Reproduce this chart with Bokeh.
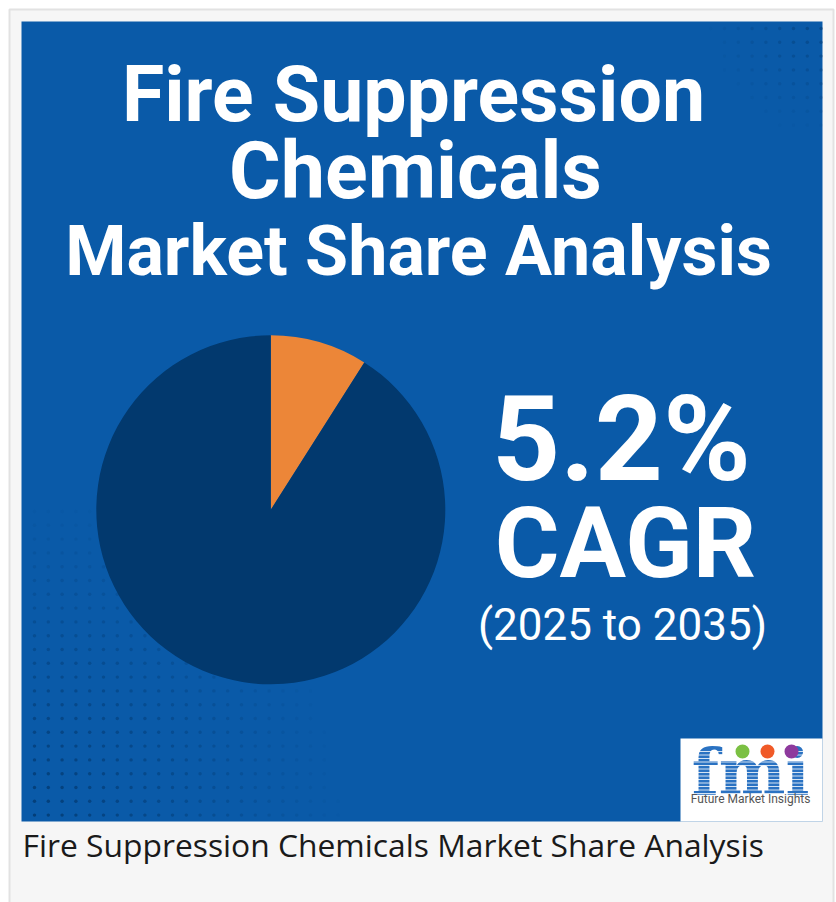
import numpy as np
from math import pi
from bokeh.plotting import figure
from bokeh.models import Range1d, ColumnDataSource
from bokeh.core.properties import value
from bokeh.embed import file_html
from bokeh.resources import INLINE

# ---- data ----
segments = ["Leading players", "Others"]
shares = [9, 91]
seg_colors = ["#ec8638", "#02396e"]
title_lines = ["Fire Suppression", "Chemicals", "Market Share Analysis"]
cagr_value = "5.2%"
cagr_label = "CAGR"
cagr_period = "(2025 to 2035)"
caption = "Fire Suppression Chemicals Market Share Analysis"
logo_text = "fmi"
logo_sub = "Future Market Insights"

W, H = 836, 902
PAGE_H = 902


def Y(py):
    return PAGE_H - py


def TB(baseline, size):
    # compensate the renderer's baseline offset
    return Y(baseline - (6 + 0.284 * size))


p = figure(width=W, height=H, output_backend="svg", toolbar_location=None,
           x_range=Range1d(0, W), y_range=Range1d(PAGE_H - H, PAGE_H),
           min_border=0, background_fill_color="white", border_fill_color="white")
p.axis.visible = False
p.grid.visible = False
p.outline_line_color = None

# outer card
p.quad(left=[9], right=[833], top=[Y(9)], bottom=[Y(910)],
       fill_color="#f6f6f6", line_color="#e2e2e2", line_width=2)

# blue panel
p.quad(left=[21], right=[822], top=[Y(21)], bottom=[Y(821)],
       fill_color="#0a5aa8", line_color=None)

# decorative dot texture (lower-left and top-right corners)
step = 13.8
gx = np.arange(34, 822, step)
gy = np.arange(28, 821, step)
XX, YY = np.meshgrid(gx, gy)
XX = XX.ravel(); YY = YY.ravel()
d1 = np.hypot(XX - 21, YY - 821)
a1 = np.clip(1 - d1 / 330, 0, 1) * 0.85
d2 = np.hypot(XX - 822, YY - 21)
a2 = np.clip(1 - d2 / 120, 0, 1) * 0.5
alpha = np.maximum(a1, a2)
keep = alpha > 0.03
p.scatter(x=XX[keep], y=[Y(v) for v in YY[keep]], size=3.4, marker="circle",
          fill_color="#03386d", line_color=None, fill_alpha=alpha[keep])

# pie
total = float(sum(shares))
cum = np.cumsum([0] + shares) / total
starts = [pi / 2 - 2 * pi * c for c in cum[:-1]]
ends = [pi / 2 - 2 * pi * c for c in cum[1:]]
src = ColumnDataSource(dict(seg=segments, share=shares, start=starts, end=ends, color=seg_colors))
p.wedge(x=270.3, y=Y(509.3), radius=174.5, start_angle="start", end_angle="end",
        direction="clock", fill_color="color", line_color=None, source=src)

# title
title_x = [413, 415, 418]
title_baselines = [122, 199, 276]
title_sizes = [77, 79, 70]
for txt, cx, b, s in zip(title_lines, title_x, title_baselines, title_sizes):
    p.text(x=[cx], y=[TB(b, s)], text=[txt], text_color="white",
           text_font=value("Roboto"), text_font_style="bold", text_font_size=f"{s}px",
           text_align="center", text_baseline="alphabetic")

# CAGR block
p.text(x=[621], y=[TB(479, 119)], text=[cagr_value], text_color="white",
       text_font=value("Roboto"), text_font_style="bold", text_font_size="119px",
       text_align="center", text_baseline="alphabetic")
p.text(x=[625], y=[TB(577, 99)], text=[cagr_label], text_color="white",
       text_font=value("Roboto"), text_font_style="bold", text_font_size="99px",
       text_align="center", text_baseline="alphabetic")
p.text(x=[622], y=[TB(643, 44)], text=[cagr_period], text_color="white",
       text_font=value("Roboto"), text_font_size="44px",
       text_align="center", text_baseline="alphabetic")

# logo box
p.quad(left=[680], right=[822], top=[Y(738)], bottom=[Y(821)],
       fill_color="white", line_color=None)
p.text(x=[750], y=[TB(795, 63)], text=[logo_text], text_color="#2a72c2",
       text_font=value("DejaVu Serif"), text_font_style="bold", text_font_size="63px",
       text_align="center", text_baseline="alphabetic")
stripe_y = [Y(v) for v in np.arange(751, 797, 3.5)]
p.multi_line(xs=[[690, 812]] * len(stripe_y), ys=[[v, v] for v in stripe_y],
             line_color="white", line_width=1, line_alpha=0.8)
p.scatter(x=[742, 767, 791], y=[Y(751)] * 3, size=14, marker="circle",
          fill_color=["#7bc043", "#f05a28", "#8e3a9d"], line_color=None)
p.text(x=[750], y=[TB(808, 12)], text=[logo_sub], text_color="#555555",
       text_font=value("Roboto"), text_font_size="12px",
       text_align="center", text_baseline="alphabetic")

# caption
p.text(x=[22], y=[TB(859, 31.8)], text=[caption], text_color="#1a1a1a",
       text_font=value("Open Sans"), text_font_size="31.8px",
       text_align="left", text_baseline="alphabetic")

open("out.html", "w").write(file_html(p, INLINE))
